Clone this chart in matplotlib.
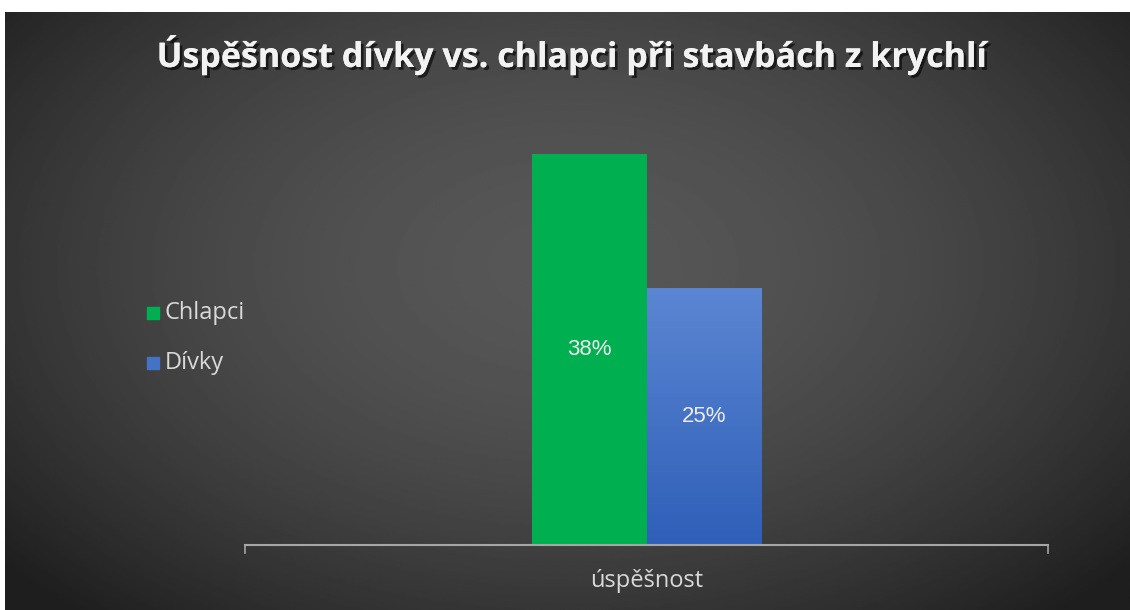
import numpy as np
import matplotlib
matplotlib.use("Agg")
import matplotlib.pyplot as plt
import matplotlib.patheffects as pe

title = "Úspěšnost dívky vs. chlapci při stavbách z krychlí"
category = "úspěšnost"
series = ["Chlapci", "Dívky"]
values = [38, 25]
colors = ["#00B050", "#4472C4"]

fig = plt.figure(figsize=(11.3, 6.1), dpi=100)
fig.patch.set_facecolor("white")

# dark background with radial gradient (light centre, darker edges)
bg = fig.add_axes([5 / 1130, 0, 1 - 5 / 1130, 1 - 12 / 610])
yy, xx = np.mgrid[-1:1:300j, -1:1:600j]
d = np.sqrt((xx / 1.1) ** 2 + ((yy + 0.15) / 1.3) ** 2)
bg.imshow(0.34 - 0.16 * np.clip(d, 0, 1.2) ** 1.8, cmap="gray", vmin=0, vmax=1,
          aspect="auto", extent=[0, 1, 0, 1])
bg.set_axis_off()

# plotting area
ax = fig.add_axes([245 / 1130, (610 - 545) / 610, (1048 - 245) / 1130, 412 / 610])
ax.set_facecolor("none")
ax.set_xlim(-1.4, 1.4)
ax.set_ylim(0, 40)
width = 0.4
xs = [-width / 2, width / 2]
bars = ax.bar(xs, values, width=width, color=colors, zorder=3)

# slight vertical gradient on the blue bar
grad = np.linspace(0, 1, 100).reshape(-1, 1)
b = bars[1]
im = ax.imshow(grad, cmap=matplotlib.colors.LinearSegmentedColormap.from_list(
    "b", ["#2F5FB8", "#5B86D2"]), aspect="auto", zorder=3.5, origin="lower",
    extent=[b.get_x(), b.get_x() + b.get_width(), 0, b.get_height()])
im.set_clip_path(b)
ax.set_xlim(-1.4, 1.4)
ax.set_ylim(0, 40)

for x, v in zip(xs, values):
    ax.text(x, v / 2, f"{v}%", ha="center", va="center",
            color="#ececec", fontsize=16, family="Liberation Sans", zorder=5)

for s in ax.spines.values():
    s.set_visible(False)
ax.set_yticks([])
ax.set_xticks([])
ax.plot([-1.4, 1.4], [0, 0], color="#a6a6a6", lw=1.5, zorder=4, clip_on=False)
ax.plot([-1.4, -1.4], [0, -0.8], color="#a6a6a6", lw=1.2, clip_on=False)
ax.plot([1.4, 1.4], [0, -0.8], color="#a6a6a6", lw=1.2, clip_on=False)

fig.text(647 / 1130, 1 - 581 / 610, category, ha="center", va="center",
         color="#d9d9d9", fontsize=17, family="Open Sans")

# title with soft shadow
fig.text(571 / 1130, 1 - 55 / 610, title, ha="center", va="center",
         color="#f2f2f2", fontsize=24.5, fontweight="bold", family="Open Sans",
         path_effects=[pe.withSimplePatchShadow(offset=(2, -2), alpha=0.6,
                                                shadow_rgbFace="black"),
                       pe.Normal()])

# legend on the left
for i, (name, c) in enumerate(zip(series, colors)):
    y = 1 - (313 + i * 50) / 610
    fig.patches.append(plt.Rectangle((147 / 1130, y - 6 / 610), 12 / 1130, 12 / 610,
                                     transform=fig.transFigure, color=c, figure=fig))
    fig.text(165 / 1130, y, name, ha="left", va="center", color="#d9d9d9",
             fontsize=17, family="Open Sans")

fig.savefig("out.png", dpi=100)
